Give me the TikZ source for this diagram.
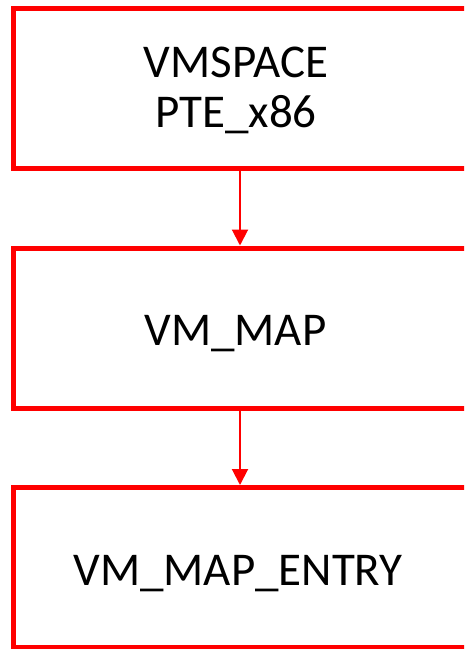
\documentclass[tikz,border=0pt]{standalone}
\usepackage{fontspec}
\setmainfont{Carlito}
\usetikzlibrary{arrows.meta}
\begin{document}
\begin{tikzpicture}[x=1pt,y=-1pt,
  boxstyle/.style={draw=red, line width=5pt, minimum width=463pt, minimum height=160pt, inner sep=0pt},
  textstyle/.style={anchor=base, inner sep=0pt, align=center, font=\fontsize{47}{50}\selectfont},
  conn/.style={draw=red, line width=2pt, -{Triangle[length=16pt,width=16pt]}}]
\useasboundingbox (0,0) rectangle (464,649);
\clip (0,0) rectangle (464,649);
\node[boxstyle] (b1) at (245,88.5) {};
\node[boxstyle] (b2) at (245,328) {};
\node[boxstyle] (b3) at (245,567.5) {};
\node[textstyle] (t1) at (236,127) {VMSPACE\\PTE\_x86};
\node[textstyle] (t2) at (235.5,345) {VM\_MAP};
\node[textstyle] (t3) at (238,585) {VM\_MAP\_ENTRY};
\draw[conn] (b1.south -| 240,0) -- (b2.north -| 240,0);
\draw[conn] (b2.south -| 240,0) -- (b3.north -| 240,0);
\end{tikzpicture}
\end{document}
